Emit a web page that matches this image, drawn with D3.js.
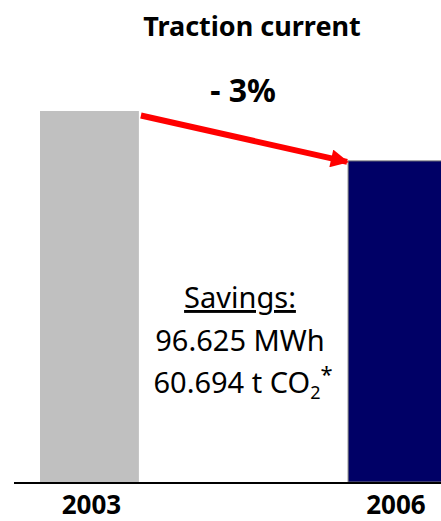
<!DOCTYPE html>
<html>
<head>
<meta charset="utf-8">
<script src="https://cdn.jsdelivr.net/npm/d3@7"></script>
<style>
  body { margin: 0; background: #fff; }
  svg { display: block; }
  text { font-family: "Noto Sans", "Open Sans", sans-serif; fill: #000; }
</style>
</head>
<body>
<script>
// Data (GWh, traction current)
const years = ['2003', '2006'];
const consumption = [3221, 3124];
const barColors = ['#c0c0c0', '#000066'];
const changeLabel = '- 3%';
const savingsLines = ['96.625 MWh'];

const width = 441;
const height = 521;

const svg = d3.select('body')
  .append('svg')
  .attr('width', width)
  .attr('height', height);

// Scales: bars are on a truncated axis
const x = d3.scaleBand()
  .domain(years)
  .range([40, 447])
  .paddingInner(0.679)
  .paddingOuter(0);

const y = d3.scaleLinear()
  .domain([2500, 3221])
  .range([482, 111]);

const data = years.map((yr, i) => ({ year: yr, value: consumption[i], color: barColors[i] }));

// Bars
svg.selectAll('.bar')
  .data(data)
  .enter()
  .append('rect')
  .attr('class', 'bar')
  .attr('x', d => x(d.year))
  .attr('y', d => y(d.value))
  .attr('width', x.bandwidth())
  .attr('height', d => y.range()[0] - y(d.value))
  .attr('fill', d => d.color)
  .attr('stroke', (d, i) => i === 1 ? '#7a7a7a' : 'none')
  .attr('stroke-width', 1);

// Baseline
svg.append('line')
  .attr('x1', 14)
  .attr('x2', width)
  .attr('y1', y.range()[0] + 1)
  .attr('y2', y.range()[0] + 1)
  .attr('stroke', '#000')
  .attr('stroke-width', 2);

// Year labels (kept just inside the bottom edge)
svg.selectAll('.year')
  .data(data)
  .enter()
  .append('text')
  .attr('class', 'year')
  .attr('x', (d, i) => Math.min(x(d.year) + x.bandwidth() / 2 + 2, width - 45))
  .attr('y', 514)
  .attr('text-anchor', 'middle')
  .style('font-size', '26px')
  .style('font-weight', 'bold')
  .text(d => d.year);

// Title
svg.append('text')
  .attr('x', 252)
  .attr('y', 36)
  .attr('text-anchor', 'middle')
  .style('font-size', '27px')
  .style('font-weight', 'bold')
  .text('Traction current');

// Change label
svg.append('text')
  .attr('x', 243)
  .attr('y', 102)
  .attr('text-anchor', 'middle')
  .style('font-size', '32px')
  .style('font-weight', 'bold')
  .text(changeLabel);

// Red arrow from 2003 bar top to 2006 bar top
const defs = svg.append('defs');
defs.append('marker')
  .attr('id', 'head')
  .attr('viewBox', '0 0 10 10')
  .attr('refX', 9)
  .attr('refY', 5)
  .attr('markerWidth', 3.2)
  .attr('markerHeight', 3)
  .attr('orient', 'auto')
  .attr('markerUnits', 'strokeWidth')
  .append('path')
  .attr('d', 'M0,0 L10,5 L0,10 Z')
  .attr('fill', '#ff0000');

const x0 = x(years[0]) + x.bandwidth() + 2;
const y0 = y(consumption[0]) + 4.5;
const x1 = x(years[1]) - 1;
const y1 = y(consumption[1]) + 1;

svg.append('line')
  .attr('x1', x0)
  .attr('y1', y0)
  .attr('x2', x1)
  .attr('y2', y1)
  .attr('stroke', '#ff0000')
  .attr('stroke-width', 6)
  .attr('marker-end', 'url(#head)');

// Savings text
const cx = 240;
svg.append('text')
  .attr('x', cx)
  .attr('y', 308)
  .attr('text-anchor', 'middle')
  .style('font-size', '29px')
  .style('text-decoration', 'underline')
  .text('Savings:');

svg.append('text')
  .attr('x', cx)
  .attr('y', 351)
  .attr('text-anchor', 'middle')
  .style('font-size', '29px')
  .text(savingsLines[0]);

const co2 = svg.append('text')
  .attr('x', cx + 3)
  .attr('y', 393)
  .attr('text-anchor', 'middle')
  .style('font-size', '29px');
co2.append('tspan').text('60.694 t CO');
co2.append('tspan').attr('dy', 6).style('font-size', '18px').text('2');
co2.append('tspan').attr('dy', -17).style('font-size', '22px').text('*');
</script>
</body>
</html>
